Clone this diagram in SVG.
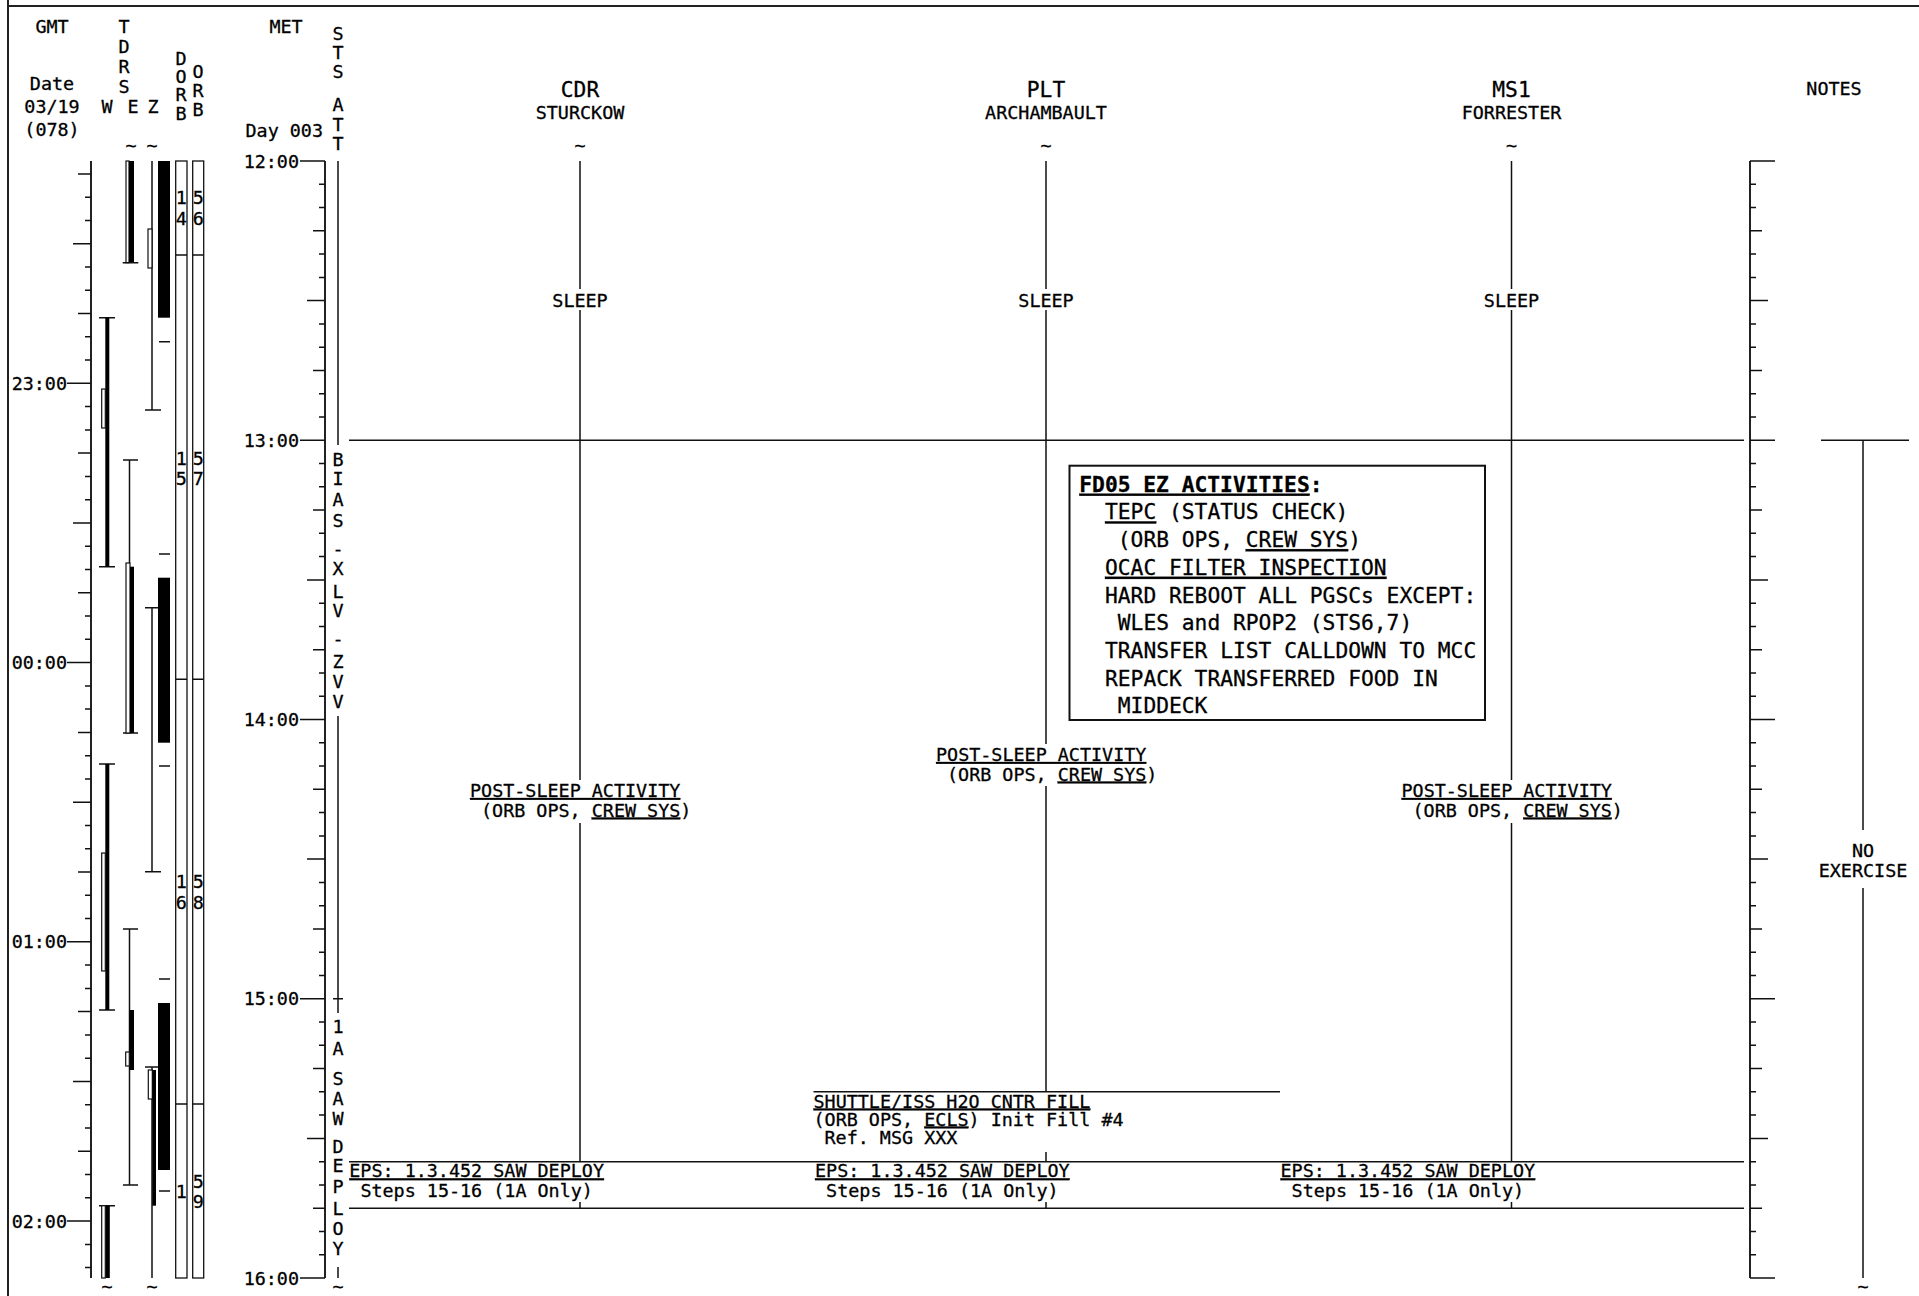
<svg xmlns="http://www.w3.org/2000/svg" width="1919" height="1296" viewBox="0 0 1919 1296">
<style>
.t{font-family:"DejaVu Sans Mono","Liberation Mono",monospace;font-size:18.4px;fill:#000;stroke:#000;stroke-width:0.3px}
.L{font-size:21.5px}
.c{text-anchor:middle}
.e{text-anchor:end}
.u{text-decoration:underline}
.b{font-weight:bold}
.k{stroke:#111;stroke-width:1.5;fill:none}
.a{stroke:#222;stroke-width:2;fill:none}
.ob{fill:#fff;stroke:#111;stroke-width:1.2}
.bk{fill:#000}
</style>
<defs>
<path id="tS" class="k" d="M0 184.3h6M0 207.5h6M0 254.1h6M0 277.4h6M0 323.9h6M0 347.2h6M0 393.7h6M0 417h6M0 463.5h6M0 486.8h6M0 533.3h6M0 556.6h6M0 603.2h6M0 626.4h6M0 673h6M0 696.2h6M0 742.8h6M0 766h6M0 812.6h6M0 835.9h6M0 882.4h6M0 905.7h6M0 952.2h6M0 975.5h6M0 1022h6M0 1045.3h6M0 1091.8h6M0 1115.1h6M0 1161.7h6M0 1184.9h6M0 1231.5h6M0 1254.7h6"/>
<path id="tM" class="k" d="M0 230.8h12M0 370.4h12M0 510.1h12M0 649.7h12M0 789.3h12M0 928.9h12M0 1068.6h12M0 1208.2h12"/>
<path id="tL" class="k" d="M0 300.6h18M0 579.9h18M0 859.1h18M0 1138.4h18"/>
<path id="tH" class="k" d="M0 161h25M0 440.3h25M0 719.5h25M0 998.8h25M0 1278h25"/>
</defs>

<g id="frame">
<path class="a" d="M8 0V1296M8 6H1919" stroke="#444"/>
</g>

<g id="gmt-header">
<text class="t c" x="52" y="33">GMT</text>
<text class="t c" x="52" y="90">Date</text>
<text class="t c" x="52" y="113">03/19</text>
<text class="t c" x="52" y="136">(078)</text>
</g>

<g id="gmt-axis">
<path class="a" d="M91 161V1278"/>
<use href="#tS" x="85" y="12.9"/>
<path class="k" d="M78 173.9H91M78 313.5H91M78 453.1H91M78 592.8H91M78 732.4H91M78 872H91M78 1011.6H91M78 1151.3H91"/>
<path class="k" d="M73 243.7H91M73 523H91M73 802.2H91M73 1081.5H91"/>
<path class="k" d="M67 383.3H91M67 662.6H91M67 941.8H91M67 1221.1H91"/>
<text class="t e" x="67" y="389.8">23:00</text>
<text class="t e" x="67" y="669.1">00:00</text>
<text class="t e" x="67" y="948.3">01:00</text>
<text class="t e" x="67" y="1227.6">02:00</text>
</g>

<g id="tdrs-header">
<text class="t c"><tspan x="124" y="33">T</tspan><tspan x="124" y="53">D</tspan><tspan x="124" y="73">R</tspan><tspan x="124" y="93">S</tspan></text>
<text class="t c" x="107" y="113">W</text>
<text class="t c" x="133" y="113">E</text>
<text class="t c" x="153" y="113">Z</text>
<text class="t c"><tspan x="181" y="65">D</tspan><tspan x="181" y="83">O</tspan><tspan x="181" y="101">R</tspan><tspan x="181" y="120">B</tspan></text>
<text class="t c"><tspan x="198" y="78">O</tspan><tspan x="198" y="97">R</tspan><tspan x="198" y="116">B</tspan></text>
</g>

<g id="tdrs-w">
<path class="k" d="M99 317.7H115M99 566.7H115M99 764H115M99 1010H115M99 1205.7H115"/>
<rect class="bk" x="105.3" y="317.7" width="4" height="249"/>
<rect class="ob" x="101.7" y="389" width="3.6" height="39"/>
<rect class="bk" x="105.3" y="764" width="4" height="246"/>
<rect class="ob" x="101.7" y="853" width="3.6" height="118"/>
<rect class="bk" x="105.3" y="1205.7" width="4.5" height="72.3"/>
<rect class="ob" x="101.7" y="1205.7" width="3.6" height="72.3"/>
<text class="t c" x="107" y="1293">~</text>
</g>

<g id="tdrs-e">
<rect class="ob" x="126" y="161" width="3" height="101.7"/>
<rect class="bk" x="129" y="161" width="5" height="101.7"/>
<path class="k" d="M122.7 262.7H138.3M123 460H138M129.5 460V563M123 733H138M123 929H138M129.5 929V1185M123 1185H138"/>
<rect class="ob" x="126" y="563" width="4" height="170"/>
<rect class="bk" x="130" y="566.7" width="4" height="166.3"/>
<rect class="bk" x="129.3" y="1010" width="4.7" height="60"/>
<rect class="ob" x="125.7" y="1052" width="3.6" height="14"/>
<text class="t c" x="131" y="152">~</text>
</g>

<g id="tdrs-z">
<path class="k" d="M152 161V410M145 410H161M145 607.7H161M152 607.7V871.7M145 871.7H161M145 1067H161M152 1067V1278"/>
<rect class="ob" x="148" y="229" width="4" height="39"/>
<rect class="ob" x="148.3" y="1070" width="4" height="29"/>
<rect class="bk" x="152.3" y="1070" width="3.7" height="135.7"/>
<text class="t c" x="152" y="152">~</text>
<text class="t c" x="152" y="1293">~</text>
</g>

<g id="tdrs-bars">
<rect class="bk" x="158" y="161" width="12" height="156.7"/>
<rect class="bk" x="158" y="577.7" width="12" height="165"/>
<rect class="bk" x="158" y="1003" width="12" height="167"/>
<path class="k" d="M159 341.7H170M159 554H170M159 766H170M159 979H170M159 1191H170"/>
</g>

<g id="orbits">
<rect x="175.7" y="161" width="11.3" height="1117" fill="none" stroke="#111" stroke-width="1.3"/>
<rect x="192.7" y="161" width="11" height="1117" fill="none" stroke="#111" stroke-width="1.3"/>
<path class="k" d="M175.7 255H187M192.7 255H203.7M175.7 679.3H187M192.7 679.3H203.7M175.7 1104H187M192.7 1104H203.7"/>
<text class="t c"><tspan x="181.3" y="204">1</tspan><tspan x="181.3" y="225">4</tspan><tspan x="181.3" y="465">1</tspan><tspan x="181.3" y="485">5</tspan><tspan x="181.3" y="888">1</tspan><tspan x="181.3" y="909">6</tspan><tspan x="181.3" y="1198">1</tspan></text>
<text class="t c"><tspan x="198.2" y="204">5</tspan><tspan x="198.2" y="225">6</tspan><tspan x="198.2" y="465">5</tspan><tspan x="198.2" y="485">7</tspan><tspan x="198.2" y="888">5</tspan><tspan x="198.2" y="909">8</tspan><tspan x="198.2" y="1188">5</tspan><tspan x="198.2" y="1208">9</tspan></text>
</g>

<g id="met-axis">
<text class="t c" x="286" y="33">MET</text>
<text class="t e" x="323" y="137">Day 003</text>
<path class="a" d="M325 161V1278"/>
<use href="#tS" x="319"/>
<use href="#tM" x="313"/>
<use href="#tL" x="307"/>
<use href="#tH" x="300"/>
<text class="t e" x="299" y="167.5">12:00</text>
<text class="t e" x="299" y="446.8">13:00</text>
<text class="t e" x="299" y="726">14:00</text>
<text class="t e" x="299" y="1005.3">15:00</text>
<text class="t e" x="299" y="1284.5">16:00</text>
</g>

<g id="sts-att">
<text class="t c"><tspan x="338" y="40">S</tspan><tspan x="338" y="59">T</tspan><tspan x="338" y="78">S</tspan><tspan x="338" y="111">A</tspan><tspan x="338" y="131">T</tspan><tspan x="338" y="150">T</tspan></text>
<path class="k" d="M338 161V445M338 716V1013M333 998.8H343M338 1267V1278"/>
<text class="t c"><tspan x="338" y="466">B</tspan><tspan x="338" y="485">I</tspan><tspan x="338" y="506">A</tspan><tspan x="338" y="527">S</tspan><tspan x="338" y="555">-</tspan><tspan x="338" y="575">X</tspan><tspan x="338" y="598">L</tspan><tspan x="338" y="617">V</tspan><tspan x="338" y="645">-</tspan><tspan x="338" y="668">Z</tspan><tspan x="338" y="688">V</tspan><tspan x="338" y="708">V</tspan></text>
<text class="t c"><tspan x="338" y="1033">1</tspan><tspan x="338" y="1055">A</tspan><tspan x="338" y="1085">S</tspan><tspan x="338" y="1105">A</tspan><tspan x="338" y="1125">W</tspan><tspan x="338" y="1153">D</tspan><tspan x="338" y="1172">E</tspan><tspan x="338" y="1193">P</tspan><tspan x="338" y="1215">L</tspan><tspan x="338" y="1235">O</tspan><tspan x="338" y="1255">Y</tspan></text>
<text class="t c" x="338" y="1293">~</text>
</g>

<g id="crew-cdr">
<text class="t L c" x="580" y="97" textLength="38.4" lengthAdjust="spacingAndGlyphs">CDR</text>
<text class="t c" x="580" y="118.5">STURCKOW</text>
<text class="t c" x="580" y="152">~</text>
<text class="t c" x="580" y="307">SLEEP</text>
<text class="t" x="470" y="797"><tspan class="u">POST-SLEEP ACTIVITY</tspan></text>
<text class="t" x="481" y="816.5">(ORB OPS, <tspan class="u">CREW SYS</tspan>)</text>
</g>

<g id="crew-plt">
<text class="t L c" x="1046" y="97" textLength="38.4" lengthAdjust="spacingAndGlyphs">PLT</text>
<text class="t c" x="1046" y="118.5">ARCHAMBAULT</text>
<text class="t c" x="1046" y="152">~</text>
<text class="t c" x="1046" y="307">SLEEP</text>
<text class="t" x="936" y="761"><tspan class="u">POST-SLEEP ACTIVITY</tspan></text>
<text class="t" x="947" y="780.5">(ORB OPS, <tspan class="u">CREW SYS</tspan>)</text>
</g>

<g id="crew-ms1">
<text class="t L c" x="1511.5" y="97" textLength="38.4" lengthAdjust="spacingAndGlyphs">MS1</text>
<text class="t c" x="1511.5" y="118.5">FORRESTER</text>
<text class="t c" x="1511.5" y="152">~</text>
<text class="t c" x="1511.5" y="307">SLEEP</text>
<text class="t" x="1401.5" y="797"><tspan class="u">POST-SLEEP ACTIVITY</tspan></text>
<text class="t" x="1412.5" y="816.5">(ORB OPS, <tspan class="u">CREW SYS</tspan>)</text>
</g>

<g id="fd05-box">
<rect x="1069.5" y="465.7" width="415.5" height="254.3" fill="#fff" stroke="#111" stroke-width="2"/>
<text class="t L b" x="1079.3" y="491.7" textLength="243.2" lengthAdjust="spacingAndGlyphs"><tspan class="u">FD05 EZ ACTIVITIES</tspan>:</text>
<text class="t L" x="1105" y="519.4" textLength="243.2" lengthAdjust="spacingAndGlyphs"><tspan class="u">TEPC</tspan> (STATUS CHECK)</text>
<text class="t L" x="1117.8" y="547.1" textLength="243.2" lengthAdjust="spacingAndGlyphs">(ORB OPS, <tspan class="u">CREW SYS</tspan>)</text>
<text class="t L" x="1105" y="574.8" textLength="281.6" lengthAdjust="spacingAndGlyphs"><tspan class="u">OCAC FILTER INSPECTION</tspan></text>
<text class="t L" x="1105" y="602.5" textLength="371.2" lengthAdjust="spacingAndGlyphs">HARD REBOOT ALL PGSCs EXCEPT:</text>
<text class="t L" x="1117.8" y="630.2" textLength="294.4" lengthAdjust="spacingAndGlyphs">WLES and RPOP2 (STS6,7)</text>
<text class="t L" x="1105" y="657.9" textLength="371.2" lengthAdjust="spacingAndGlyphs">TRANSFER LIST CALLDOWN TO MCC</text>
<text class="t L" x="1105" y="685.6" textLength="332.8" lengthAdjust="spacingAndGlyphs">REPACK TRANSFERRED FOOD IN</text>
<text class="t L" x="1117.8" y="713.3" textLength="89.6" lengthAdjust="spacingAndGlyphs">MIDDECK</text>
</g>

<g id="h2o-fill">
<text class="t" x="813.5" y="1107.5"><tspan class="u">SHUTTLE/ISS H2O CNTR FILL</tspan></text>
<text class="t" x="813.5" y="1125.5">(ORB OPS, <tspan class="u">ECLS</tspan>) Init Fill #4</text>
<text class="t" x="824.5" y="1143.5">Ref. MSG XXX</text>
</g>

<g id="saw-deploy">
<text class="t" x="349.3" y="1177.3"><tspan class="u">EPS: 1.3.452 SAW DEPLOY</tspan></text>
<text class="t" x="360.4" y="1196.7">Steps 15-16 (1A Only)</text>
<text class="t" x="815" y="1177.3"><tspan class="u">EPS: 1.3.452 SAW DEPLOY</tspan></text>
<text class="t" x="826.1" y="1196.7">Steps 15-16 (1A Only)</text>
<text class="t" x="1280.5" y="1177.3"><tspan class="u">EPS: 1.3.452 SAW DEPLOY</tspan></text>
<text class="t" x="1291.6" y="1196.7">Steps 15-16 (1A Only)</text>
</g>

<g id="notes">
<text class="t c" x="1834" y="95">NOTES</text>
<path class="a" d="M1750 161V1278"/>
<use href="#tS" x="1750"/>
<use href="#tM" x="1750"/>
<use href="#tL" x="1750"/>
<use href="#tH" x="1750"/>
<path class="k" d="M1821 440.3H1909M1863 440.3V830M1863 888V1278"/>
<text class="t c" x="1863" y="857">NO</text>
<text class="t c" x="1863" y="877">EXERCISE</text>
<text class="t c" x="1863" y="1293">~</text>
</g>

<g id="connectors">
<path class="k" d="M349 440.3H1744"/>
<path class="k" d="M580 161V289M580 310V780M580 823V1161.7M580 1202V1208.2"/>
<path class="k" d="M1046 161V289M1046 310V744M1046 786V1091.8M1046 1152V1161.7M1046 1202V1208.2"/>
<path class="k" d="M1511.5 161V289M1511.5 310V780M1511.5 823V1161.7M1511.5 1202V1208.2"/>
<path class="k" d="M813.5 1091.8H1280"/>
<path class="k" d="M349 1161.7H1744M349 1208.2H1744"/>
</g>
</svg>
